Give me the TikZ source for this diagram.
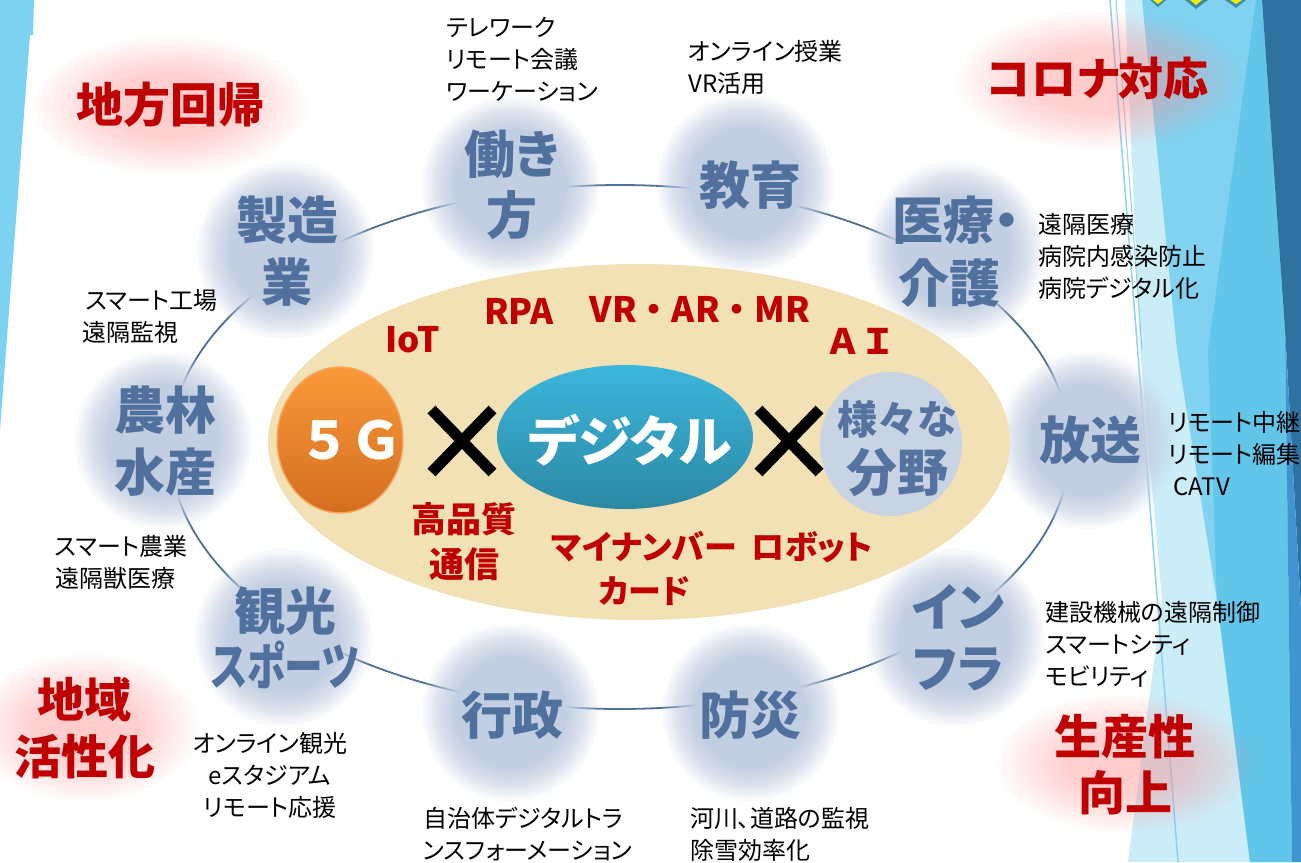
\documentclass[tikz,border=0pt]{standalone}
\usepackage{fontspec}
\usepackage{graphicx}
\usetikzlibrary{fadings,shapes.geometric,shapes.misc}
\newfontfamily\jp{Noto Sans CJK JP}
\newfontfamily\jpp{Noto Sans CJK JP}[RawFeature=+palt]
\definecolor{bubcol}{HTML}{C2CEE1}
\definecolor{bubtext}{HTML}{50709E}
\definecolor{ringcol}{HTML}{4F6F9B}
\definecolor{darkred}{HTML}{C00000}
\definecolor{glowcol}{HTML}{FF8E8E}
\definecolor{beige}{HTML}{F2E1B5}
\definecolor{stripLeft}{HTML}{7DD1F1}
\definecolor{stripVL}{HTML}{CBEDF8}
\definecolor{stripL}{HTML}{80D2F0}
\definecolor{stripM}{HTML}{62C6EA}
\definecolor{stripD}{HTML}{2F72A1}
\definecolor{stripDD}{HTML}{3E95CF}
\definecolor{stripLine}{HTML}{8CD2EE}
\definecolor{zigteal}{HTML}{3C8EA6}
\definecolor{zigyellow}{HTML}{F5F000}
\definecolor{orTop}{HTML}{FA993A}
\definecolor{orBot}{HTML}{D36E1E}
\definecolor{orEdge}{HTML}{F6A860}
\definecolor{tealTop}{HTML}{3CB6DD}
\definecolor{tealBot}{HTML}{2B88A4}
\definecolor{fieldcol}{HTML}{C8D3E4}
\definecolor{fieldtext}{HTML}{5573A0}
\pgfdeclareradialshading{bubshade}{\pgfpointorigin}{color(0bp)=(white); color(15bp)=(white); color(20bp)=(black!40); color(25bp)=(black); color(50bp)=(black)}
\pgfdeclarefading{bubfade}{\pgfuseshading{bubshade}}
\pgfdeclareradialshading{glowshade}{\pgfpointorigin}{color(0bp)=(black!55); color(11bp)=(black!58); color(18bp)=(black!78); color(25bp)=(black); color(50bp)=(black)}
\pgfdeclarefading{glowfade}{\pgfuseshading{glowshade}}
\tikzset{
  bubble/.style={circle, minimum size=180pt, inner sep=0pt, fill=bubcol, path fading=bubfade},
  glow/.style={ellipse, inner sep=0pt, fill=glowcol, path fading=glowfade},
  bubtxt/.style={inner sep=0pt, text=bubtext, align=center, font={\jpp\bfseries\fontsize{51}{61}\selectfont}},
  note/.style={inner sep=0pt, text=black, align=left, anchor=west, font={\jpp\fontsize{24}{32}\selectfont}},
  redbig/.style={inner sep=0pt, text=darkred, align=center, font={\jpp\bfseries\fontsize{47}{57}\selectfont}},
  redin/.style={inner sep=0pt, text=darkred, align=center, font={\jpp\bfseries\fontsize{35}{45}\selectfont}},
  xmark/.style={cross out, draw=black, line width=11pt, minimum width=50pt, minimum height=52pt, inner sep=0pt},
}
\begin{document}
\begin{tikzpicture}[x=1pt, y=-1pt]
\useasboundingbox (0,0) rectangle (1301,862);
\fill[white] (0,0) rectangle (1301,862);
% left strip
\fill[stripLeft] (0,0) -- (34,0) -- (33,35) -- (30,35) -- (0,430) -- cycle;
% right strips
\fill[stripVL] (1125,0) -- (1180,0) -- (1250,862) -- (1128,862) -- (1162,600) -- (1140,350) -- cycle;
\fill[stripL] (1142,0) -- (1262,0) -- (1285,330) -- (1292,862) -- (1250,862) -- (1217,600) -- (1177,350) -- cycle;
\fill[stripM] (1256,0) -- (1262,0) -- (1285,330) -- (1292,862) -- (1250,862) -- (1217,600) -- (1208,350) -- cycle;
\fill[stripD] (1262,0) -- (1301,0) -- (1301,610) -- (1285,330) -- cycle;
\fill[stripDD] (1285,330) -- (1301,610) -- (1301,862) -- (1292,862) -- cycle;
\draw[stripLine, line width=1.5pt] (1110,0) -- (1178,862);
\draw[stripLine, line width=1pt] (1116,0) -- (1142,350);
% zigzag
\fill[zigteal] (1150,0) -- (1166,0) -- (1158,7) -- cycle;
\fill[zigteal] (1185,0) -- (1208,0) -- (1196,9) -- cycle;
\fill[zigteal] (1225,0) -- (1246,0) -- (1236,8) -- cycle;
\fill[zigyellow] (1153,0) -- (1163,0) -- (1158,4) -- cycle;
\fill[zigyellow] (1190,0) -- (1202,0) -- (1196,5) -- cycle;
\fill[zigyellow] (1230,0) -- (1242,0) -- (1236,4) -- cycle;
% glows
\node[glow, minimum width=280pt, minimum height=140pt] (gA) at (170,105) {};
\node[glow, minimum width=290pt, minimum height=140pt] (gB) at (1098,80) {};
\node[glow, minimum width=230pt, minimum height=150pt] (gC) at (85,727) {};
\node[glow, minimum width=260pt, minimum height=140pt] (gD) at (1125,763) {};
% ring
\node[ellipse, draw=ringcol, line width=1.8pt, minimum width=900pt, minimum height=524pt, inner sep=0pt] (ring) at (620,447) {};
% bubbles
\node[bubble] (bA) at (285,250) {};
\node[bubble] (bB) at (510,185) {};
\node[bubble] (bC) at (745,183) {};
\node[bubble] (bD) at (955,250) {};
\node[bubble] (bE) at (1087,440) {};
\node[bubble] (bF) at (955,637) {};
\node[bubble] (bG) at (750,712) {};
\node[bubble] (bH) at (510,712) {};
\node[bubble] (bI) at (283,637) {};
\node[bubble] (bJ) at (163,440) {};
% core
\node[ellipse, fill=beige, minimum width=742pt, minimum height=356pt, inner sep=0pt] (core) at (639,442) {};
\node[ellipse, top color=orTop, bottom color=orBot, draw=orEdge, line width=1.5pt, minimum width=126pt, minimum height=146pt, inner sep=0pt] (g5) at (340,440) {};
\node[ellipse, top color=tealTop, bottom color=tealBot, minimum width=256pt, minimum height=144pt, inner sep=0pt] (dig) at (625,437) {};
\node[ellipse, fill=fieldcol, minimum width=142pt, minimum height=144pt, inner sep=0pt] (field) at (891,444) {};
\node[xmark] (x1) at (462,441) {};
\node[xmark] (x2) at (789,441) {};
% core texts
\node[inner sep=0pt, text=white, font={\jp\bfseries\fontsize{52}{60}\selectfont}] (g5t) at (350,440) {５Ｇ};
\node[inner sep=0pt, text=white, font={\jpp\bfseries\fontsize{54}{60}\selectfont}] (digt) at (630,440) {デジタル};
\node[inner sep=0pt, text=fieldtext, align=center, font={\jpp\bfseries\fontsize{40}{57}\selectfont}] (fieldt) at (897,448) {様々な\\{\fontsize{51}{57}\selectfont 分野}};
\node[redin] (r1) at (413,340) {IoT};
\node[redin] (r2) at (519,311) {RPA};
\node[redin, font={\jp\bfseries\fontsize{35}{45}\selectfont}] (r3) at (700,309) {VR・AR・MR};
\node[redin, font={\jp\bfseries\fontsize{35}{45}\selectfont}] (r4) at (860,341) {ＡＩ};
\node[redin] (r5) at (464,542) {高品質\\通信};
\node[redin, font={\jpp\bfseries\fontsize{33}{44}\selectfont}] (r6) at (644,568) {マイナンバー\\カード};
\node[redin, font={\jpp\bfseries\fontsize{33}{44}\selectfont}] (r7) at (812,547) {ロボット};
% bubble texts
\node[bubtxt, font={\jpp\bfseries\fontsize{51}{62}\selectfont}] (tA) at (287,251) {製造\\業};
\node[bubtxt] (tB) at (512,185) {働き\\方};
\node[bubtxt] (tC) at (750,185) {教育};
\node[bubtxt, align=left, anchor=west, font={\jpp\bfseries\fontsize{51}{63}\selectfont}] (tD) at (892,252) {医療・\\\hspace{6pt}介護};
\node[bubtxt] (tE) at (1090,440) {放送};
\node[bubtxt] (tF) at (958,638) {イン\\フラ};
\node[bubtxt] (tG) at (750,715) {防災};
\node[bubtxt] (tH) at (512,715) {行政};
\node[bubtxt, font={\jpp\bfseries\fontsize{51}{55}\selectfont}] (tI) at (285,638) {観光\\\scalebox{0.76}[1]{スポーツ}};
\node[bubtxt, font={\jpp\bfseries\fontsize{51}{62}\selectfont}] (tJ) at (165,441) {農林\\水産};
% notes
\node[note] (nB) at (446,59) {テレワーク\\リモート会議\\ワーケーション};
\node[note] (nC) at (688,67) {オンライン授業\\VR活用};
\node[note] (nD) at (1038,256) {遠隔医療\\病院内感染防止\\病院デジタル化};
\node[note] (nE) at (1168,454) {リモート中継\\リモート編集\\\hspace{5pt}CATV};
\node[note] (nF) at (1045,644) {建設機械の遠隔制御\\スマートシティ\\モビリティ};
\node[note] (nG) at (690,834) {河川、道路の監視\\除雪効率化};
\node[note] (nH) at (423,834) {自治体デジタルトラ\\ンスフォーメーション};
\node[note, align=center, anchor=center] (nI) at (270,775) {オンライン観光\\eスタジアム\\リモート応援};
\node[note] (nA) at (82,316) {\hspace{3pt}スマート工場\\遠隔監視};
\node[note] (nJ) at (55,562) {スマート農業\\遠隔獣医療};
% red labels
\node[redbig] (kA) at (170,105) {地方回帰};
\node[redbig, font={\jpp\bfseries\fontsize{45}{57}\selectfont}] (kB) at (1098,78) {コロナ対応};
\node[redbig] (kC) at (85,728) {地域\\活性化};
\node[redbig, font={\jpp\bfseries\fontsize{47}{56}\selectfont}] (kD) at (1125,765) {生産性\\向上};
\end{tikzpicture}
\end{document}
